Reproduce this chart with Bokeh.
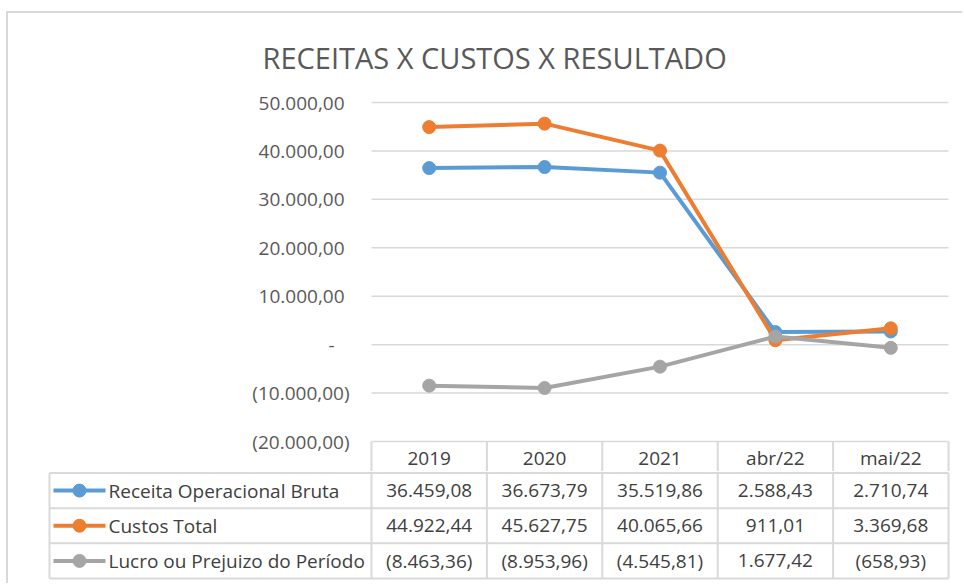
from bokeh.plotting import figure
from bokeh.models import Range1d, FixedTicker, Title
from bokeh.embed import file_html
from bokeh.resources import INLINE
from bokeh.core.properties import value

# ---------------- data ----------------
categories = ["2019", "2020", "2021", "abr/22", "mai/22"]
series_names = ["Receita Operacional Bruta", "Custos Total", "Lucro ou Prejuizo do Período"]
receita = [36459.08, 36673.79, 35519.86, 2588.43, 2710.74]
custos = [44922.44, 45627.75, 40065.66, 911.01, 3369.68]
lucro = [-8463.36, -8953.96, -4545.81, 1677.42, -658.93]
y_ticks = [-20000, -10000, 0, 10000, 20000, 30000, 40000, 50000]
title_text = "RECEITAS X CUSTOS X RESULTADO"
series_colors = ["#5B9BD5", "#ED7D31", "#A5A5A5"]

series_values = [receita, custos, lucro]


def fmt(v):
    s = f"{abs(v):,.2f}".replace(",", "X").replace(".", ",").replace("X", ".")
    return f"({s})" if v < 0 else s


# ---------------- layout constants (page pixels) ----------------
FONT = "Open Sans"
TXT = "#595959"
TBL_TXT = "#404040"
GRID = "#d9d9d9"
BORDER = "2px solid #d9d9d9"
OX, OY = 8, 13                  # content origin inside the chart border
PAGE_R = 964
TOTAL_W = PAGE_R - OX
COL_L, COL_R = 371, 948         # data columns in page px
NCOL = len(categories)
COL_W = (COL_R - COL_L) / NCOL
Y_MAX_PX, Y_MIN_PX = 102, 441   # pixel rows of top / bottom tick
Y_MAX, Y_MIN = y_ticks[-1], y_ticks[0]
PPV = (Y_MIN_PX - Y_MAX_PX) / (Y_MAX - Y_MIN)   # px per value unit

A_FL, A_FR, A_FT, A_FB = 369, 950, 100, 473
HDR_BOT_PX = 474.5


def px_to_x(px):
    return (px - COL_L) / COL_W


def px_to_y(px):
    return Y_MAX - (px - Y_MAX_PX) / PPV


# ---------------- chart figure ----------------
pA = figure(width=TOTAL_W, height=A_FB - OY,
            x_range=Range1d(px_to_x(A_FL), px_to_x(A_FR)),
            y_range=Range1d(px_to_y(A_FB), px_to_y(A_FT)),
            x_axis_type=None,
            min_border_left=A_FL - OX, min_border_right=PAGE_R - A_FR,
            min_border_top=A_FT - OY, min_border_bottom=0,
            toolbar_location=None, output_backend="svg",
            background_fill_color="white", border_fill_color="white",
            styles={"margin-top": "11px", "margin-left": "6px",
                    "border-top": BORDER, "border-left": BORDER})
pA.outline_line_color = None
pA.grid.grid_line_color = None

pA.title = Title(text=title_text, align="left", offset=262 - A_FL,
                 vertical_align="top",
                 text_font=FONT, text_font_size="29px", text_font_style="normal",
                 text_color=TXT, standoff=44)

ax = pA.yaxis[0]
ax.ticker = FixedTicker(ticks=y_ticks)
overrides = {}
for t in y_ticks:
    if t == 0:
        overrides[t] = "-\u00a0\u00a0\u00a0"
    elif t > 0:
        overrides[t] = fmt(t) + "\u00a0"
    else:
        overrides[t] = fmt(t)
ax.major_label_overrides = overrides
ax.axis_line_color = None
ax.major_tick_line_color = None
ax.minor_tick_line_color = None
ax.major_tick_out = 0
ax.major_tick_in = 0
ax.minor_tick_out = 0
ax.minor_tick_in = 0
ax.major_label_standoff = A_FL - 349
ax.major_label_text_font = FONT
ax.major_label_text_font_size = "19px"
ax.major_label_text_color = TXT

# gridlines
pA.segment(x0=[0] * len(y_ticks), x1=[NCOL] * len(y_ticks), y0=y_ticks, y1=y_ticks,
           line_color=GRID, line_width=1.5)

# header row of the data table (category labels)
hdr_bot = px_to_y(HDR_BOT_PX)
bounds = list(range(NCOL + 1))
pA.segment(x0=bounds, x1=bounds, y0=[hdr_bot] * len(bounds), y1=[Y_MIN] * len(bounds),
           line_color=GRID, line_width=2)
centers = [i + 0.5 for i in range(NCOL)]
pA.text(x=centers, y=[(Y_MIN + hdr_bot) / 2] * NCOL, text=categories,
        text_font=value(FONT), text_font_size="19px", text_color=TBL_TXT,
        text_align="center", text_baseline="middle")

# series
for vals, col in zip(series_values, series_colors):
    pA.line(x=centers, y=vals, line_color=col, line_width=4)
    pA.scatter(x=centers, y=vals, size=13, fill_color=col, line_color=col)

# ---------------- data table figure ----------------
B_FL, B_FR, B_FT, B_FB = 47, 950, 473, 585
ROW_TOP_PX, ROW_BOT_PX = HDR_BOT_PX, 580
NROW = len(series_names)
ROW_H = (ROW_BOT_PX - ROW_TOP_PX) / NROW

pB = figure(width=TOTAL_W, height=B_FB - B_FT,
            x_range=Range1d(px_to_x(B_FL), px_to_x(B_FR)),
            y_range=Range1d(-(B_FB - ROW_BOT_PX) / ROW_H, NROW + (ROW_TOP_PX - B_FT) / ROW_H),
            x_axis_type=None, y_axis_type=None,
            min_border_left=B_FL - OX, min_border_right=PAGE_R - B_FR,
            min_border_top=0, min_border_bottom=0,
            toolbar_location=None, output_backend="svg",
            background_fill_color="white", border_fill_color="white",
            styles={"margin-left": "6px", "border-left": BORDER})
pB.outline_line_color = None
pB.grid.grid_line_color = None

x_left = px_to_x(49)
rows_y = list(range(NROW + 1))
pB.segment(x0=[x_left] * len(rows_y), x1=[NCOL] * len(rows_y), y0=rows_y, y1=rows_y,
           line_color=GRID, line_width=2)
vx = [x_left] + bounds
pB.segment(x0=vx, x1=vx, y0=[0] * len(vx), y1=[NROW] * len(vx),
           line_color=GRID, line_width=2)

for r, (name, vals, col) in enumerate(zip(series_names, series_values, series_colors)):
    yc = NROW - r - 0.5
    pB.line(x=[px_to_x(53), px_to_x(105)], y=[yc, yc], line_color=col, line_width=4)
    pB.scatter(x=[px_to_x(79)], y=[yc], size=13, fill_color=col, line_color=col)
    pB.text(x=[px_to_x(108)], y=[yc], text=[name], text_font=value(FONT),
            text_font_size="19px", text_color=TBL_TXT, text_align="left", text_baseline="middle")
    pB.text(x=centers, y=[yc] * NCOL, text=[fmt(v) for v in vals], text_font=value(FONT),
            text_font_size="19px", text_color=TBL_TXT, text_align="center", text_baseline="middle")

open("out.html", "w").write(file_html([pA, pB], INLINE))
